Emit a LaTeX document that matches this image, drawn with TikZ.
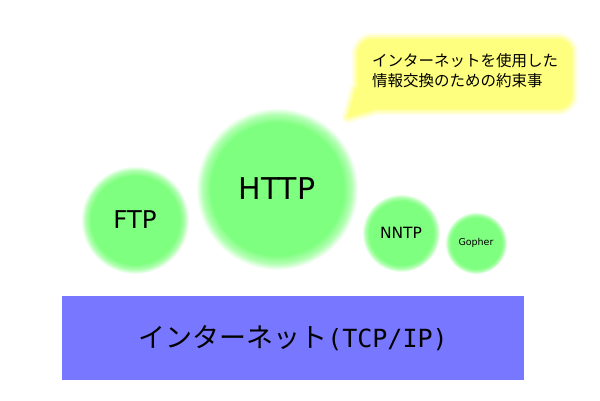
\documentclass[tikz,border=0pt]{standalone}
\usepackage{fontspec}
\setmainfont{DejaVu Sans}
\newfontfamily\jpfont{Noto Sans CJK JP}
\newfontfamily\latmono{DejaVu Sans Mono}
\definecolor{glowg}{RGB}{127,255,127}
\definecolor{bluebar}{RGB}{119,119,255}
\definecolor{bubbley}{RGB}{255,255,127}
\pgfdeclareradialshading{glowgreen}{\pgfpoint{0bp}{0bp}}{color(0bp)=(glowg); color(20.5bp)=(glowg); color(23bp)=(glowg!60); color(25bp)=(white); color(50bp)=(white)}
\tikzset{
  ball/.style={circle, shade, shading=glowgreen, inner sep=0pt, text=black},
  bar/.style={rectangle, fill=bluebar, inner sep=0pt, text=black},
}
\begin{document}
\begin{tikzpicture}[x=1pt,y=-1pt]
\useasboundingbox[fill=white] (0,0) rectangle (600,400);
% bubble
\foreach \w/\c in {12/20, 8/45, 4/75} {
  \draw[line width=\w pt, draw=bubbley!\c, rounded corners=14pt] (358,39) rectangle (572,109);
  \draw[line width=\w pt, draw=bubbley!\c, line join=round, fill=bubbley!\c] (356,88) -- (348,117) -- (380,108) -- cycle;
}
\fill[bubbley, rounded corners=14pt] (358,39) rectangle (572,109);
\fill[bubbley] (356,88) -- (348,117) -- (380,108) -- cycle;
\node[align=left, inner sep=0pt, font=\jpfont\fontsize{15.5}{20}\selectfont] (bubble) at (465,71) {インターネットを使用した\\情報交換のための約束事};
% balls
\node[ball, minimum size=108pt, font=\fontsize{24.5}{28}\selectfont] (ftp) at (135,220) {FTP};
\node[ball, minimum size=162pt, font=\fontsize{30}{34}\selectfont] (http) at (277,189) {HTTP};
\node[ball, minimum size=78pt, font=\fontsize{15.5}{18}\selectfont] (nntp) at (401,233) {NNTP};
\node[ball, minimum size=62pt, font=\fontsize{9.5}{11}\selectfont] (gopher) at (476,243) {Gopher};
% bar
\node[bar, minimum width=462pt, minimum height=84pt, font=\jpfont\fontsize{27}{30}\selectfont] (inet) at (293,338) {インターネット{\latmono\fontsize{25}{30}\selectfont(TCP/IP)}};
\end{tikzpicture}
\end{document}
